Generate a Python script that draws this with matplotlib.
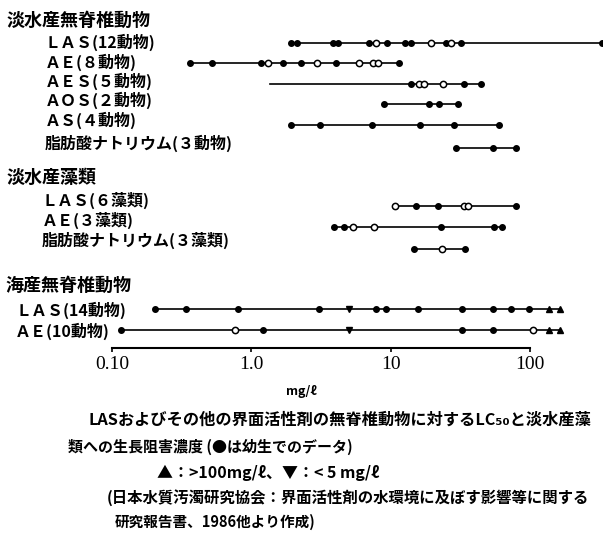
import matplotlib
matplotlib.use("Agg")
import matplotlib.pyplot as plt
from matplotlib.ticker import NullLocator

plt.rcParams['font.family'] = ['Noto Sans CJK JP', 'DejaVu Sans']

# LC50 / 生長阻害濃度 (mg/l), 読み取り値
# kinds: f = 塗り丸, o = 白丸, v = <5mg/l, ^ = >100mg/l, n = 線の端のみ
fw_las = [1.94, 2.14, 3.87, 4.2, 7.0, 7.9, 9.4, 12.7, 14.0, 19.5, 25, 27.2, 32, 330]
fw_las_k = "fffffofffofoff"
fw_ae = [0.36, 0.525, 1.18, 1.32, 1.7, 2.28, 2.97, 4.07, 5.94, 7.5, 8.1, 11.5]
fw_ae_k = "fffoffofooof"
fw_aes = [1.35, 14.0, 16, 17.4, 23.8, 33.6, 44.5]
fw_aes_k = "nfoooff"
fw_aos = [9.0, 18.9, 22.3, 30.5]
fw_aos_k = "ffff"
fw_as = [1.94, 3.1, 7.4, 16.3, 28.5, 60]
fw_as_k = "ffffff"
fw_soap = [29.5, 54, 79]
fw_soap_k = "fff"

alg_las = [10.8, 15.2, 21.9, 33.6, 36, 79]
alg_las_k = "offoof"
alg_ae = [3.94, 4.6, 5.4, 7.6, 23, 55, 63]
alg_ae_k = "ffoofff"
alg_soap = [14.7, 23.4, 34.2]
alg_soap_k = "fof"

mar_las = [0.205, 0.34, 0.80, 3.07, 5.0, 7.8, 9.3, 15.7, 32.6, 54.6, 72.6, 98.4, 137, 163]
mar_las_k = "ffffvfffffff^^"
mar_ae = [0.116, 0.76, 1.21, 5.0, 32.6, 54, 105, 137, 163]
mar_ae_k = "fofvffo^^"

tick_vals = [0.1, 1, 10, 100]
tick_labels = ["0.10", "1.0", "10", "100"]

W, H = 603, 537
fig = plt.figure(figsize=(W / 100, H / 100), dpi=100)
ax = fig.add_axes([112 / W, 1 - 348 / H, 1 - 112 / W, 348 / H])
ax.set_xscale('log')
ax.set_xlim(0.1, 334)
ax.set_ylim(348, 0)

rows = [
    (fw_las, fw_las_k, 43), (fw_ae, fw_ae_k, 63), (fw_aes, fw_aes_k, 84),
    (fw_aos, fw_aos_k, 104), (fw_as, fw_as_k, 125), (fw_soap, fw_soap_k, 148),
    (alg_las, alg_las_k, 206), (alg_ae, alg_ae_k, 227), (alg_soap, alg_soap_k, 249),
    (mar_las, mar_las_k, 309), (mar_ae, mar_ae_k, 330),
]

for vals, kinds, y in rows:
    ax.plot([min(vals), max(vals)], [y, y], color='black', lw=1.2, clip_on=False)
    for v, k in zip(vals, kinds):
        if k == 'f':
            ax.plot(v, y, 'o', ms=4, color='black', clip_on=False)
        elif k == 'o':
            ax.plot(v, y, 'o', ms=4.5, mfc='white', mec='black', mew=1.1, clip_on=False)
        elif k == 'v':
            ax.plot(v, y, 'v', ms=5, color='black', clip_on=False)
        elif k == '^':
            ax.plot(v, y, '^', ms=5, color='black', clip_on=False)

for s in ['top', 'right', 'left']:
    ax.spines[s].set_visible(False)
ax.spines['bottom'].set_bounds(0.1, 100)
ax.spines['bottom'].set_linewidth(1.5)
ax.set_yticks([])
ax.set_xticks(tick_vals)
ax.set_xticklabels(tick_labels, fontfamily='Liberation Serif', fontsize=14)
ax.xaxis.set_minor_locator(NullLocator())
ax.tick_params(axis='x', direction='out', length=3, width=1.2, pad=3)


def put(x, y, s, size=11.5, **kw):
    fig.text(x / W, 1 - y / H, s, va='center', fontsize=size, fontweight='bold', **kw)


put(7, 20, "淡水産無脊椎動物", size=13)
put(45, 42, "ＬＡＳ(12動物)")
put(45, 62, "ＡＥ(８動物)")
put(45, 81, "ＡＥＳ(５動物)")
put(45, 100, "ＡＯＳ(２動物)")
put(45, 120, "ＡＳ(４動物)")
put(45, 143, "脂肪酸ナトリウム(３動物)")

put(7, 177, "淡水産藻類", size=13)
put(42, 200, "ＬＡＳ(６藻類)")
put(42, 220, "ＡＥ(３藻類)")
put(42, 240, "脂肪酸ナトリウム(３藻類)")

put(5, 285, "海産無脊椎動物", size=13)
put(15, 310, "ＬＡＳ(14動物)")
put(15, 331, "ＡＥ(10動物)")

put(301, 391, "mg/ℓ", size=9, ha='center')

put(88, 420, "LASおよびその他の界面活性剤の無脊椎動物に対するLC₅₀と淡水産藻", size=11.7)
put(68, 447, "類への生長阻害濃度 (●は幼生でのデータ)", size=10.8)
put(157, 473, "▲：>100mg/ℓ、▼：< 5 mg/ℓ", size=11.5)
put(107, 498, "(日本水質汚濁研究協会：界面活性剤の水環境に及ぼす影響等に関する", size=11.1)
put(115, 522, "研究報告書、1986他より作成)", size=10.5)

fig.savefig("out.png", dpi=100)
